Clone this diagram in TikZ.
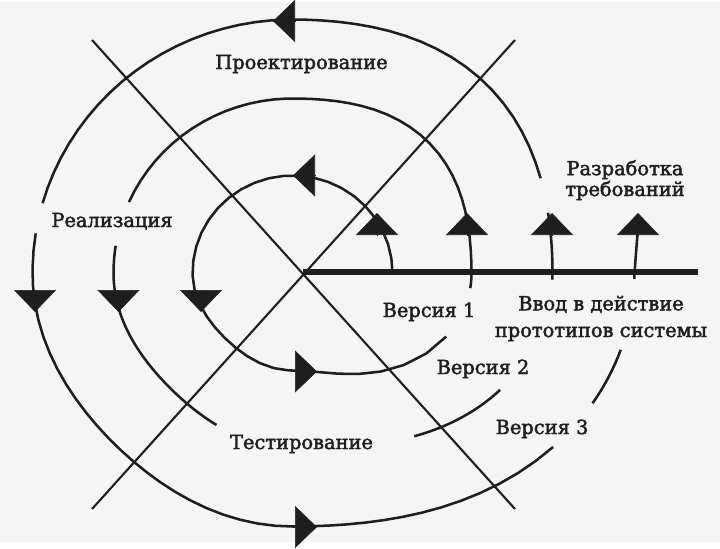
\documentclass[tikz,border=0pt]{standalone}
\usepackage{fontspec}
\setmainfont{DejaVu Serif}
\newfontfamily\phasefont{DejaVu Serif}[FakeBold=2.2]
\usetikzlibrary{arrows.meta}

\definecolor{ink}{RGB}{30,30,30}
\definecolor{paper}{RGB}{245,245,245}

% radius of the spiral: angle, radius, next radius, bulge (upper right), dent (lower left)
\pgfmathdeclarefunction{sprad}{5}{%
  \pgfmathparse{#2+4*#4*(max(sin(#1),0)*max(cos(#1),0))^2-4*#5*(max(-sin(#1),0)*max(-cos(#1),0))^2+(#1>270)*(#3-#2)*cos(#1)^2}%
}
\newcommand{\sprplot}[6]{plot[domain=#5:#6,samples=40] ({292.5+sprad(\x,#1,#2,#3,#4)*cos(\x)},{271-0.975*sprad(\x,#1,#2,#3,#4)*sin(\x)})}
\newcommand{\turnone}[2]{\sprplot{100}{179}{0}{5}{#1}{#2}}
\newcommand{\turntwo}[2]{\sprplot{179}{260}{12}{9}{#1}{#2}}
\newcommand{\turnthree}[2]{\sprplot{260}{342}{14}{10}{#1}{#2}}

\begin{document}
\begin{tikzpicture}[
    x=0.025cm, y=-0.025cm,
    spiral/.style={draw=ink, line width=1.8pt},
    cross/.style={draw=ink, line width=1.5pt},
    axis/.style={draw=ink, line width=3.6pt},
    head/.style={-{Triangle[width=1.05cm,length=0.55cm]}, draw=ink, fill=ink, line width=0.4pt},
    phase/.style={font=\phasefont\fontsize{13.8}{16}\selectfont, text=ink, inner sep=0pt, anchor=base}
]

\fill[paper] (0,0) rectangle (720,540);

\coordinate (mid) at (303,270);
\coordinate (axisend) at (698,270);
\coordinate (nw) at (92,38);
\coordinate (ne) at (515,38);
\coordinate (sw) at (92,507);
\coordinate (se) at (515,507);

\draw[cross] (nw) -- (se);
\draw[cross] (ne) -- (sw);
\draw[axis] (mid) -- (axisend);

% first turn
\draw[spiral] \turnone{0}{337};
\draw[spiral] \turnone{355}{360};
% second turn
\draw[spiral] \turntwo{0}{156};
\draw[spiral] \turntwo{171}{244};
\draw[spiral] \turntwo{306}{330};
\draw[spiral] \turntwo{358.5}{360};
% third turn
\draw[spiral] \turnthree{0}{13.6};
\draw[spiral] \turnthree{21.4}{164};
\draw[spiral] \turnthree{171}{325.6};
\draw[spiral] \turnthree{336}{346.5};
\draw[spiral] \turnthree{359}{360} -- (638,225);

% arrow heads
\foreach \px in {377,467,552,638}
    \draw[head] (\px,233) -- (\px,211);
\draw[head] (315,173.5) -- (293,173.5);
\draw[head] (295,19) -- (273,19);
\foreach \px in {35,118.5,201}
    \draw[head] (\px,288) -- (\px,310);
\draw[head] (295,369.5) -- (317,369.5);
\draw[head] (295,525) -- (317,525);

\node[phase] (design) at (301.5,67) {Проектирование};
\node[phase, align=center] (reqs) at (625,194) {Разработка\\[-1.2pt]требований};
\node[phase, align=center] (deploy) at (601,335) {Ввод в действие\\[3pt]прототипов системы};
\node[phase] (build) at (112,225) {Реализация};
\node[phase] (test) at (301.5,447) {Тестирование};
\node[phase] (v1) at (429,315) {Версия 1};
\node[phase] (v2) at (483,372) {Версия 2};
\node[phase] (v3) at (542,432) {Версия 3};

\end{tikzpicture}
\end{document}
